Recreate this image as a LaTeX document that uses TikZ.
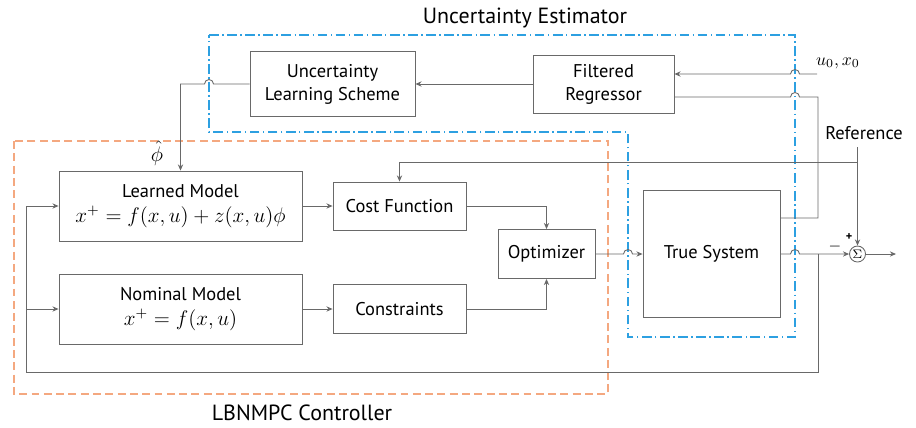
\documentclass[tikz,border=0pt]{standalone}
\usepackage{fontspec}
\setmainfont{PT Sans}
\usepackage{amsmath}
\usetikzlibrary{arrows.meta}

\definecolor{estblue}{RGB}{45,160,225}
\definecolor{ctrlorange}{RGB}{244,168,128}
\definecolor{wiregray}{RGB}{105,105,105}

\begin{document}
\begin{tikzpicture}[x=0.02cm, y=-0.02cm,
    >={Stealth[length=3.5pt,width=3pt]},
    block/.style={draw=wiregray, line width=0.5pt, inner sep=0pt, align=center, font=\fontsize{10.5}{13}\selectfont},
    link/.style={draw=wiregray, line width=0.5pt},
    title/.style={font=\fontsize{12.5}{15}\selectfont}]
\useasboundingbox (0,0) rectangle (916,427);

% frames
\draw[estblue, line width=0.8pt, dash pattern=on 5.5pt off 2pt on 0.8pt off 2pt]
  (209,35) -- (795,35) -- (795,337) -- (628,337) -- (628,132) -- (209,132) -- cycle;
\draw[ctrlorange, line width=1pt, dash pattern=on 4.5pt off 2.5pt] (14,141) rectangle (608,394);
\node[title] (esttitle) at (525,18) {Uncertainty Estimator};
\node[title] (ctrltitle) at (302,413) {LBNMPC Controller};

% blocks
\node[block, minimum width=3.3cm, minimum height=1.3cm] (uls) at (332.5,84) {Uncertainty\\Learning Scheme};
\node[block, minimum width=2.82cm, minimum height=1.16cm] (freg) at (603.5,84) {Filtered\\Regressor};
\node[block, minimum width=4.86cm, minimum height=1.4cm] (learned) at (180.5,206)
  {Learned Model\\[1pt] {\fontsize{11.5}{14}\selectfont $x^{+}=f(x,u)+z(x,u)\phi$}};
\node[block, minimum width=4.86cm, minimum height=1.4cm] (nominal) at (180.5,309)
  {Nominal Model\\[1pt] {\fontsize{11.5}{14}\selectfont $x^{+}=f(x,u)$}};
\node[block, minimum width=2.66cm, minimum height=0.96cm] (cost) at (399.5,206) {Cost Function};
\node[block, minimum width=2.66cm, minimum height=0.98cm] (constr) at (399.5,309) {Constraints};
\node[block, minimum width=1.94cm, minimum height=0.98cm] (opt) at (546.5,254) {Optimizer};
\node[block, minimum width=2.74cm, minimum height=2.54cm] (ts) at (711.5,254) {True System};
\node[draw=wiregray, line width=0.5pt, circle, inner sep=0pt, minimum size=0.32cm, font=\scriptsize] (sum) at (857.5,254) {$\Sigma$};

% labels
\node[inner sep=0pt] (phihat) at (157,153) {\large $\hat{\phi}$};
\node[font=\fontsize{10.5}{13}\selectfont] (reflbl) at (864,133) {Reference};
\node (u0lbl) at (838,63) {$u_0,x_0$};
\node[font=\scriptsize\bfseries] (plus) at (849,237) {+};
\node[font=\small] (minus) at (835,247) {$-$};

\coordinate (uin) at (817,74);
\coordinate (ref) at (857.5,147);
\coordinate (refsplit) at (857.5,162);
\coordinate (fb) at (818,254);
\coordinate (fbcorner) at (26,372);
\coordinate (out) at (896,254);

% estimator loop
\draw[link,->] (freg.west) -- (uls.east);
\draw[link,->] (uls.west) -- (213.5,84) arc[start angle=0, end angle=180, radius=0.09cm] -| (learned.north);
\draw[link,->] (uin) -- (799.5,74) arc[start angle=0, end angle=180, radius=0.09cm] -- ([yshift=0.2cm]freg.east);
\draw[link] ([yshift=0.72cm]ts.east) -- (818,218) -- (818,97) -- (799.5,97)
  arc[start angle=0, end angle=180, radius=0.09cm] -- ([yshift=-0.26cm]freg.east);

% controller
\draw[link,->] (learned.east) -- (cost.west);
\draw[link,->] (nominal.east) -- (constr.west);
\draw[link,->] (cost.east) -| (opt.north);
\draw[link,->] (constr.east) -| (opt.south);
\draw[link,->] (refsplit) -| (cost.north);
\draw[link,->] (ref) -- (sum.north);

\draw[link,->] (opt.east) -- (623.5,254) arc[start angle=180, end angle=0, radius=0.09cm] -- (ts.west);
\draw[link,->] (ts.east) -- (790.5,254) arc[start angle=180, end angle=0, radius=0.09cm] -- (sum.west);
\draw[link,->] (sum.east) -- (out);

% feedback
\draw[link,->] (fb) |- (fbcorner) |- (learned.west);
\draw[link,->] (fbcorner |- nominal.west) -- (nominal.west);
\end{tikzpicture}
\end{document}
